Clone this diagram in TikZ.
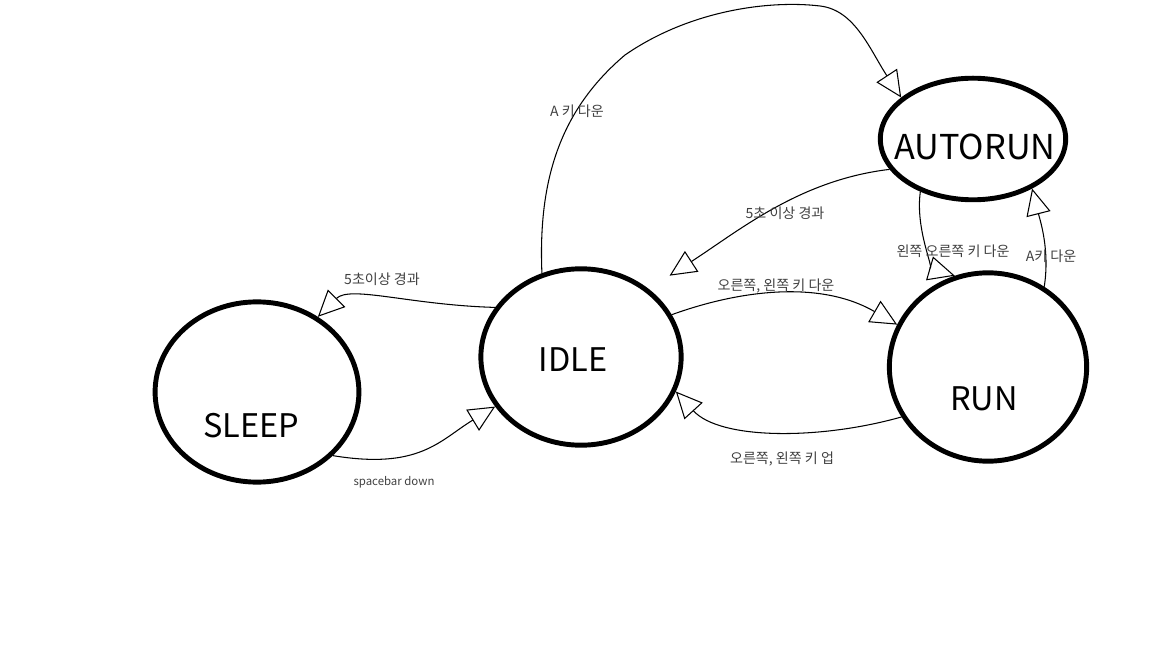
\documentclass[tikz,border=0pt]{standalone}
\usepackage{fontspec}
\setmainfont{Noto Sans CJK KR}
\usepackage{tikz}
\usetikzlibrary{arrows.meta, shapes.geometric}

\tikzset{
  state/.style={ellipse, draw, line width=2.8pt, inner sep=0pt},
  statename/.style={font=\fontsize{18.5}{20}\selectfont},
  edge/.style={line width=0.6pt, -{Triangle[open, length=15pt, width=14pt]}},
  edgelabel/.style={font=\fontsize{8}{9}\selectfont, text=black!75}
}

\begin{document}
\begin{tikzpicture}[x=0.02cm, y=-0.02cm]
  \useasboundingbox (0,0) rectangle (1152,648);

  % States
  \node[state, minimum width=116pt, minimum height=102.6pt] (sleep) at (257,392) {};
  \node[state, minimum width=114pt, minimum height=100.4pt] (idle) at (581,357) {};
  \node[state, minimum width=105.5pt, minimum height=69.2pt] (autorun) at (973,139) {};
  \node[state, minimum width=112.3pt, minimum height=107.2pt] (run) at (988,367) {};

  % State names
  \node[statename] (sleeptxt) at (251,426) {SLEEP};
  \node[statename] (idletxt) at (573,360) {IDLE};
  \node[statename, font=\fontsize{19.5}{21}\selectfont] (autoruntxt) at (975,147) {AUTORUN};
  \node[statename] (runtxt) at (984,399) {RUN};

  % Transitions
  \draw[edge] (idle.115) .. controls (538,180) and (560,110) .. (625,55)
    .. controls (690,10) and (770,0) .. (820,6)
    .. controls (855,10) and (870,50) .. (autorun.150);
  \draw[edge, shorten >=14pt] (autorun.200) .. controls (800,180) and (740,230) .. (idle.45);
  \draw[edge] (idle.150) .. controls (410,305) and (350,285) .. (sleep.51);
  \draw[edge] (sleep.-40) .. controls (420,470) and (440,440) .. (idle.210);
  \draw[edge] (idle.25) .. controls (740,290) and (820,280) .. (run.155);
  \draw[edge] (run.210) .. controls (820,440) and (720,440) .. (idle.-20);
  \draw[edge] (autorun.225) .. controls (915,230) and (935,270) .. (run.110);
  \draw[edge] (run.55) .. controls (1050,250) and (1040,220) .. (autorun.-40);

  % Transition labels
  \node[edgelabel] (lblatoauto) at (577,111) {A 키 다운};
  \node[edgelabel] (lblautoidle) at (785,213) {5초 이상 경과};
  \node[edgelabel] (lblidlesleep) at (382,279) {5초이상 경과};
  \node[edgelabel, font=\fontsize{6.5}{8}\selectfont] (lblspace) at (394,482) {spacebar down};
  \node[edgelabel] (lblkeydown) at (776,286) {오른쪽, 왼쪽 키 다운};
  \node[edgelabel] (lblkeyup) at (782,459) {오른쪽, 왼쪽 키 업};
  \node[edgelabel] (lblautorun) at (953,251) {왼쪽 오른쪽 키 다운};
  \node[edgelabel] (lblrunauto) at (1051,256) {A키 다운};
\end{tikzpicture}
\end{document}
